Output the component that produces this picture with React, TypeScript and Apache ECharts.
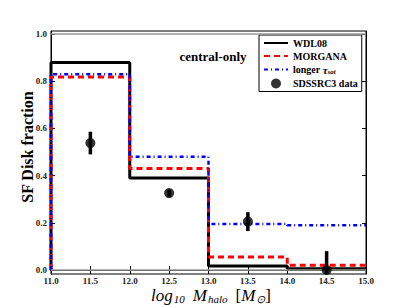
import React, { useEffect, useRef } from 'react';
import * as echarts from 'echarts';

const binEdges = [11, 12, 13, 14, 15];
const wdl08 = [0.88, 0.39, 0.017, 0.005];
const morgana = [0.818, 0.43, 0.055, 0.02];
const longerTau = [0.83, 0.48, 0.195, 0.19];
const dataX = [11.5, 12.5, 13.5, 14.5];
const dataY = [0.538, 0.326, 0.205, 0.0];
const dataErr = [0.048, 0.015, 0.04, 0.08];
const yTicks = [0, 0.2, 0.4, 0.6, 0.8, 1.0];
const seriesNames = ['WDL08', 'MORGANA', 'longer τsat', 'SDSSRC3 data'];

const FONT = 'Liberation Serif';

function steps(vals: number[]) {
  const pts: number[][] = [[binEdges[0], 0]];
  vals.forEach((v, i) => {
    pts.push([binEdges[i], v]);
    pts.push([binEdges[i + 1], v]);
  });
  return pts;
}

export default function App() {
  const ref = useRef<HTMLDivElement>(null);
  useEffect(() => {
    if (!ref.current) return;
    const chart = echarts.init(ref.current, null, { renderer: 'svg' });
    const yMin = -0.017;
    const yMax = 1.013;
    const tickLabel = { fontFamily: FONT, fontWeight: 'bold' as const, fontSize: 9, color: '#222' };
    const hidden = { opacity: 0, color: 'transparent', borderWidth: 0 };
    chart.setOption({
      animation: false,
      backgroundColor: '#fff',
      grid: { left: 51, right: 41, top: 31, bottom: 31, show: true, borderColor: '#000', borderWidth: 1 },
      xAxis: [
        {
          type: 'value', min: 11, max: 15, interval: 0.5,
          axisLine: { lineStyle: { color: '#000' } },
          axisTick: { inside: true, length: 4, lineStyle: { color: '#000' } },
          axisLabel: { ...tickLabel, margin: 2, formatter: (v: number) => v.toFixed(1) },
          splitLine: { show: false },
        },
        {
          type: 'value', min: 11, max: 15, interval: 0.5, position: 'top',
          axisLine: { lineStyle: { color: '#000' } },
          axisTick: { inside: true, length: 4, lineStyle: { color: '#000' } },
          axisLabel: { show: false },
          splitLine: { show: false },
        },
      ],
      yAxis: [
        {
          type: 'value', min: yMin, max: yMax,
          axisLine: { show: true, lineStyle: { color: '#000' } },
          axisTick: { show: true, inside: true, length: 4, customValues: yTicks, lineStyle: { color: '#000' } },
          axisLabel: { ...tickLabel, margin: 4, customValues: yTicks, formatter: (v: number) => v.toFixed(1) },
          splitLine: { show: false },
        },
        {
          type: 'value', min: yMin, max: yMax, position: 'right',
          axisLine: { show: true, lineStyle: { color: '#000' } },
          axisTick: { show: true, inside: true, length: 4, customValues: yTicks, lineStyle: { color: '#000' } },
          axisLabel: { show: false },
          splitLine: { show: false },
        },
      ],
      legend: {
        data: [
          { name: seriesNames[0], itemStyle: hidden },
          { name: seriesNames[1], itemStyle: hidden },
          { name: seriesNames[2], itemStyle: hidden },
          { name: seriesNames[3] },
        ],
        orient: 'vertical',
        left: 259,
        top: 35,
        itemWidth: 24,
        itemHeight: 10,
        itemGap: 3,
        padding: [3, 4, 3, 4],
        borderColor: '#000',
        borderWidth: 1,
        borderRadius: 0,
        backgroundColor: '#fff',
        formatter: (name: string) => (name === 'longer τsat' ? 'longer {tau|τ}{sub|sat}' : name),
        textStyle: {
          fontFamily: FONT, fontWeight: 'bold', fontSize: 10, color: '#000',
          rich: {
            tau: { fontFamily: FONT, fontStyle: 'italic', fontSize: 11, color: '#000' },
            sub: { fontFamily: FONT, fontStyle: 'italic', fontSize: 7, color: '#000', padding: [5, 0, 0, 0] },
          },
        },
      },
      graphic: [
        {
          type: 'text', x: 213, y: 56,
          style: { text: 'central-only', fontFamily: FONT, fontWeight: 'bold', fontSize: 13, fill: '#000', textAlign: 'center', textVerticalAlign: 'middle' },
        },
        {
          type: 'text', x: 27, y: 147, rotation: Math.PI / 2,
          style: { text: 'SF Disk fraction', fontFamily: FONT, fontWeight: 'bold', fontSize: 16, fill: '#000', textAlign: 'center', textVerticalAlign: 'middle' },
        },
        {
          type: 'text', x: 211, y: 295,
          style: {
            text: '{i|log}{s|10}{g| }{i|M}{s|halo}{g| }{n|[}{i|M}{s|⊙}{n|]}',
            textAlign: 'center', textVerticalAlign: 'middle',
            rich: {
              i: { fontFamily: FONT, fontStyle: 'italic', fontSize: 17, lineHeight: 15, fill: '#000' },
              n: { fontFamily: FONT, fontSize: 17, lineHeight: 15, fill: '#000' },
              g: { fontFamily: FONT, fontSize: 17, lineHeight: 15, fill: '#000', width: 8 },
              s: { fontFamily: FONT, fontStyle: 'italic', fontSize: 11, lineHeight: 10, fill: '#000', padding: [8, 0, 0, 1] },
            },
          },
        },
      ],
      series: [
        {
          name: 'guides', type: 'line', data: [], silent: true,
          markLine: {
            silent: true, symbol: 'none', label: { show: false },
            lineStyle: { color: '#999', width: 1.5, type: 'solid' },
            data: [{ yAxis: 0 }, { yAxis: 1 }],
          },
          z: 1,
        },
        {
          name: 'WDL08', type: 'line', data: steps(wdl08), showSymbol: false, symbol: 'none',
          lineStyle: { color: '#000', width: 3 }, itemStyle: { color: '#000' }, z: 2,
        },
        {
          name: 'MORGANA', type: 'line', data: steps(morgana), showSymbol: false, symbol: 'none',
          lineStyle: { color: '#ff0000', width: 3, type: [6, 4] }, itemStyle: { color: '#ff0000' }, z: 3,
        },
        {
          name: 'longer τsat', type: 'line', data: steps(longerTau), showSymbol: false, symbol: 'none',
          lineStyle: { color: '#0000ff', width: 2.5, type: [4, 3, 1, 3] }, itemStyle: { color: '#0000ff' }, z: 4,
        },
        {
          name: 'errbars', type: 'custom', clip: true, z: 5,
          data: dataX.map((x, i) => [x, dataY[i], dataErr[i]]),
          renderItem: (_p: any, api: any) => {
            const x = api.value(0), y = api.value(1), e = api.value(2);
            const a = api.coord([x, y - e]);
            const b = api.coord([x, y + e]);
            return { type: 'line', shape: { x1: a[0], y1: a[1], x2: b[0], y2: b[1] }, style: { stroke: '#000', lineWidth: 3.5 } };
          },
        },
        {
          name: 'SDSSRC3 data', type: 'scatter', data: dataX.map((x, i) => [x, dataY[i]]),
          symbol: 'circle', symbolSize: 10, itemStyle: { color: '#000' }, z: 6,
        },
      ],
    });
    return () => chart.dispose();
  }, []);
  return <div ref={ref} style={{ width: 407, height: 305, position: 'fixed', left: 0, top: 0 }} />;
}
